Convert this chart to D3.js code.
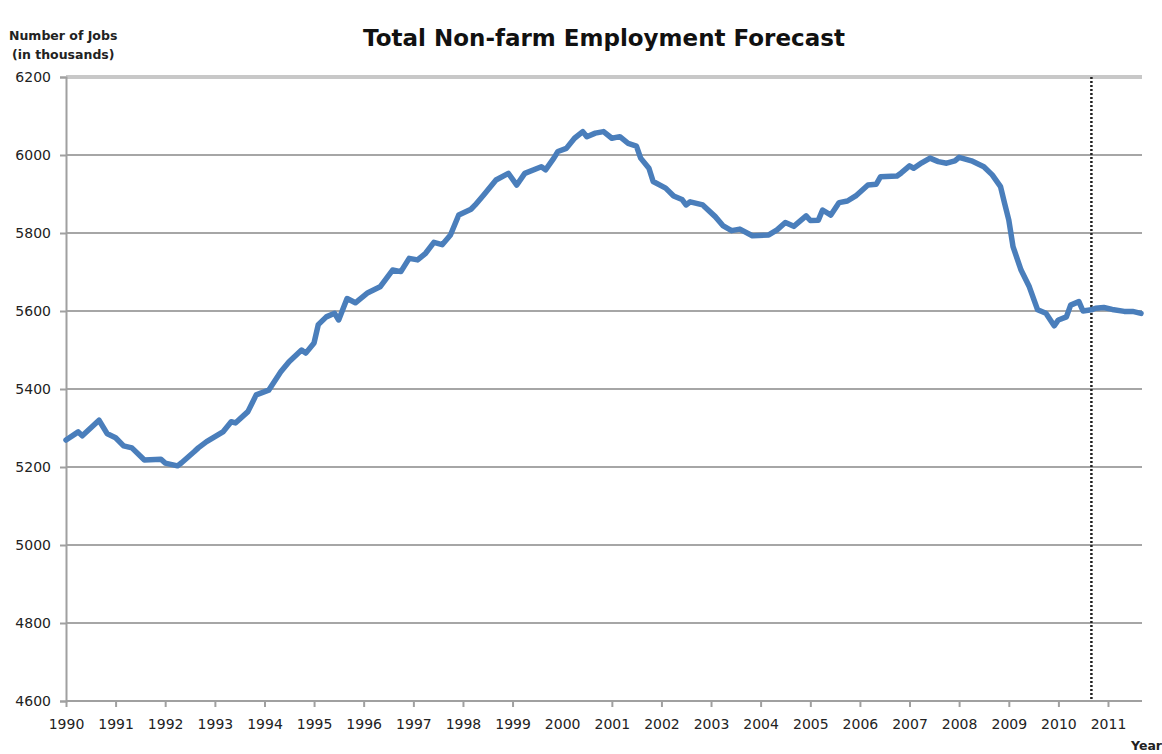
<!DOCTYPE html>
<html lang="en">
<head>
  <meta charset="UTF-8">
  <title>Total Non-farm Employment Forecast</title>
  <script src="https://d3js.org/d3.v7.min.js"></script>
  <style>
    body { margin: 0; background: #fff; }
    svg { display: block; font-family: "DejaVu Sans", sans-serif; }
    .grid line { stroke: #a6a6a6; stroke-width: 2px; }
    .tick-label { font-size: 14px; fill: #222; }
    .axis-title { font-size: 12.5px; font-weight: bold; fill: #222; }
  </style>
</head>
<body>
  <svg width="1162" height="754"></svg>

  <script>
    // monthly readings (yyyy-mm), jobs in thousands
    const dates = [
      '1990-01','1990-04','1990-05','1990-09','1990-11','1991-01','1991-03','1991-05','1991-08','1991-12',
      '1992-01','1992-04','1992-05','1992-08','1992-09','1992-11','1993-03','1993-05','1993-06','1993-09',
      '1993-11','1994-02','1994-05','1994-07','1994-10','1994-11','1995-01','1995-02','1995-04','1995-06',
      '1995-07','1995-09','1995-11','1996-02','1996-05','1996-08','1996-10','1996-12','1997-02','1997-04',
      '1997-06','1997-08','1997-10','1997-12','1998-03','1998-04','1998-06','1998-09','1998-12','1999-02',
      '1999-04','1999-08','1999-09','1999-11','1999-12','2000-02','2000-04','2000-06','2000-07','2000-09',
      '2000-11','2001-01','2001-03','2001-05','2001-07','2001-08','2001-10','2001-11','2002-02','2002-04',
      '2002-06','2002-07','2002-08','2002-11','2003-02','2003-04','2003-06','2003-08','2003-11','2004-03',
      '2004-05','2004-07','2004-09','2004-12','2005-01','2005-03','2005-04','2005-06','2005-08','2005-10',
      '2005-12','2006-03','2006-05','2006-06','2006-10','2006-11','2007-01','2007-02','2007-04','2007-06',
      '2007-08','2007-10','2007-12','2008-01','2008-04','2008-07','2008-09','2008-11','2008-12','2009-01',
      '2009-02','2009-04','2009-06','2009-08','2009-10','2009-12','2010-01','2010-03','2010-04','2010-06',
      '2010-07','2010-09','2010-10','2010-12','2011-02','2011-05','2011-07','2011-09'
    ];
    const jobs = [
      5269,5290,5280,5320,5285,5275,5254,5249,5218,5220,
      5210,5203,5211,5239,5249,5265,5290,5316,5313,5342,
      5385,5397,5444,5470,5500,5492,5518,5565,5585,5594,
      5577,5632,5621,5647,5662,5705,5701,5735,5731,5748,
      5776,5770,5795,5846,5861,5872,5897,5936,5953,5923,
      5953,5970,5962,5992,6009,6017,6043,6060,6047,6056,
      6060,6043,6047,6030,6023,5992,5966,5932,5915,5895,
      5886,5872,5880,5872,5842,5818,5806,5810,5793,5795,
      5808,5827,5817,5844,5832,5833,5859,5846,5878,5882,
      5895,5923,5925,5944,5946,5954,5972,5966,5980,5992,
      5983,5979,5985,5994,5985,5970,5949,5919,5876,5833,
      5765,5705,5662,5603,5594,5562,5577,5585,5615,5624,
      5600,5603,5607,5609,5604,5599,5599,5594
    ];
    const yTicks = [4600, 4800, 5000, 5200, 5400, 5600, 5800, 6000, 6200];
    const yearLabels = ['1990','1991','1992','1993','1994','1995','1996','1997','1998','1999','2000',
                        '2001','2002','2003','2004','2005','2006','2007','2008','2009','2010','2011'];
    const forecastStart = '2010-09';

    const parse = d3.timeParse('%Y-%m');
    const data = dates.map((d, i) => ({ date: parse(d), value: jobs[i] }));

    const plotLeft = 66, plotRight = 1141, plotTop = 77, plotBottom = 701;
    const svg = d3.select('svg');

    const x = d3.scaleTime()
      .domain([data[0].date, data[data.length - 1].date])
      .range([plotLeft, plotRight]);
    const y = d3.scaleLinear().domain([4600, 6200]).range([plotBottom, plotTop]);

    // horizontal grid
    const grid = svg.append('g').attr('class', 'grid');
    grid.selectAll('line')
      .data(yTicks.slice(1))
      .join('line')
      .attr('x1', plotLeft).attr('x2', plotRight + 1)
      .attr('y1', d => y(d)).attr('y2', d => y(d))
      .style('stroke', d => d === 6200 ? '#c8c8c8' : null)
      .style('stroke-width', d => d === 6200 ? '4px' : null);

    // y axis
    const yAxis = svg.append('g')
      .attr('transform', `translate(${plotLeft},0)`)
      .call(d3.axisLeft(y).tickValues(yTicks).tickSize(6).tickPadding(9).tickFormat(d3.format('d')));
    yAxis.select('.domain').attr('stroke', '#a0a0a0').attr('stroke-width', 2);
    yAxis.selectAll('.tick line').attr('stroke', '#a0a0a0').attr('stroke-width', 2);
    yAxis.selectAll('.tick text').attr('class', 'tick-label');
    yAxis.attr('font-family', null).attr('font-size', null);

    // x axis
    const yearDates = yearLabels.map(d => parse(d + '-01'));
    const xAxis = svg.append('g')
      .attr('transform', `translate(0,${plotBottom})`)
      .call(d3.axisBottom(x).tickValues(yearDates).tickSize(6).tickPadding(12).tickFormat(d3.timeFormat('%Y')));
    xAxis.select('.domain').attr('d', `M${plotLeft},0H${plotRight + 1}`).attr('stroke', '#a0a0a0').attr('stroke-width', 2);
    xAxis.selectAll('.tick line').attr('stroke', '#a0a0a0').attr('stroke-width', 2)
      .attr('display', d => d.getFullYear() === 2000 ? 'none' : null);
    xAxis.selectAll('.tick text').attr('class', 'tick-label');
    xAxis.attr('font-family', null).attr('font-size', null);

    // forecast marker
    const fx = x(parse(forecastStart));
    svg.append('line')
      .attr('x1', fx).attr('x2', fx)
      .attr('y1', plotTop).attr('y2', plotBottom)
      .attr('stroke', '#222').attr('stroke-width', 2.5)
      .attr('stroke-dasharray', '2,2');

    // series
    const line = d3.line()
      .x(d => x(d.date))
      .y(d => y(d.value));
    svg.append('path')
      .datum(data)
      .attr('fill', 'none')
      .attr('stroke', '#4a7ebb')
      .attr('stroke-width', 5.5)
      .attr('stroke-linejoin', 'round')
      .attr('stroke-linecap', 'round')
      .attr('d', line);

    // titles
    svg.append('text')
      .attr('x', 604).attr('y', 46)
      .attr('text-anchor', 'middle')
      .attr('font-size', 23).attr('font-weight', 'bold').attr('fill', '#111')
      .text('Total Non-farm Employment Forecast');

    svg.append('text').attr('class', 'axis-title').attr('x', 9).attr('y', 40).text('Number of Jobs');
    svg.append('text').attr('class', 'axis-title').attr('x', 12).attr('y', 59).text('(in thousands)');
    svg.append('text').attr('class', 'axis-title').attr('x', 1131).attr('y', 750).text('Year');
  </script>
</body>
</html>
